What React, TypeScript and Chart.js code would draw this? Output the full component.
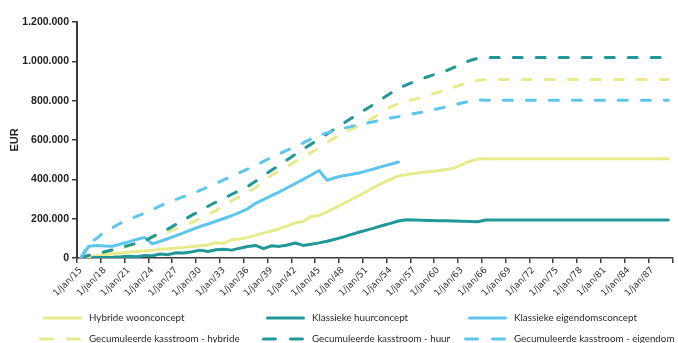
import React, { useEffect, useRef } from 'react';
import { Chart, registerables } from 'chart.js';

Chart.register(...registerables);

// Yearly categories, 1 January of each year
const YEARS: number[] = Array.from({ length: 75 }, (_, i) => 2015 + i);

// Values in thousands of euro
const HYBRIDE_WOON_K: number[] = [
  0, 5, 12, 17, 21, 25, 29, 33, 37, 40,
  44, 47, 51, 54, 58, 62, 66, 78, 75, 93,
  97, 105, 115, 127, 137, 149, 163, 179, 185, 211,
  216, 235, 255, 275, 296, 316, 338, 362, 382, 400,
  417, 424, 430, 435, 440, 444, 450, 457, 475, 492,
  503, 505, 505, 505, 505, 505, 505, 505, 505, 505,
  505, 505, 505, 505, 505, 505, 505, 505, 505, 505,
  505, 505, 505, 505, 505,
];

const KLASSIEK_HUUR_K: number[] = [
  0, 1, 2, 3, 4, 6, 9, 6, 13, 11,
  20, 17, 27, 25, 32, 40, 33, 42, 45, 40,
  50, 58, 64, 48, 62, 59, 66, 76, 64, 70,
  77, 85, 95, 106, 119, 131, 142, 153, 165, 176,
  188, 194, 193, 192, 191, 190, 189, 188, 187, 186,
  184, 193, 193, 193, 193, 193, 193, 193, 193, 193,
  193, 193, 193, 193, 193, 193, 193, 193, 193, 193,
  193, 193, 193, 193, 193,
];

const KLASSIEK_EIGENDOM_K: (number | null)[] = [
  0, 60, 63, 61, 60, 71, 82, 94, 105, 72,
  85, 99, 114, 129, 145, 160, 173, 187, 201, 215,
  232, 250, 278, 297, 317, 336, 357, 379, 400, 422,
  445, 395, 408, 418, 425, 432, 443, 454, 466, 477,
  488, null, null, null, null, null, null, null, null, null,
  null, null, null, null, null, null, null, null, null, null,
  null, null, null, null, null, null, null, null, null, null,
  null, null, null, null, null,
];

const GECUM_HYBRIDE_K: number[] = [
  0, 5, 12, 22, 35, 48, 60, 72, 88, 103,
  119, 133, 150, 165, 181, 200, 220, 241, 266, 290,
  313, 336, 357, 392, 421, 443, 466, 490, 514, 536,
  559, 587, 612, 633, 652, 675, 697, 717, 745, 768,
  785, 798, 806, 818, 830, 843, 855, 868, 882, 896,
  904, 907, 907, 907, 907, 907, 907, 907, 907, 907,
  907, 907, 907, 907, 907, 907, 907, 907, 907, 907,
  907, 907, 907, 907, 907,
];

const GECUM_HUUR_K: number[] = [
  0, 14, 20, 32, 42, 53, 64, 75, 85, 108,
  127, 148, 172, 195, 218, 240, 263, 284, 304, 324,
  344, 364, 390, 419, 446, 472, 500, 527, 553, 579,
  605, 631, 657, 683, 709, 734, 759, 784, 811, 838,
  863, 880, 897, 912, 926, 939, 952, 969, 987, 1004,
  1015, 1020, 1020, 1020, 1020, 1020, 1020, 1020, 1020, 1020,
  1020, 1020, 1020, 1020, 1020, 1020, 1020, 1020, 1020, 1020,
  1020, 1020, 1020, 1020, 1020,
];

const GECUM_EIGENDOM_K: number[] = [
  0, 75, 100, 135, 155, 177, 195, 212, 227, 246,
  265, 283, 298, 313, 327, 344, 361, 379, 397, 416,
  434, 452, 470, 491, 512, 530, 548, 566, 585, 605,
  625, 636, 648, 659, 668, 677, 686, 694, 703, 712,
  718, 727, 735, 742, 750, 759, 768, 778, 788, 797,
  804, 802, 802, 802, 802, 802, 802, 802, 802, 802,
  802, 802, 802, 802, 802, 802, 802, 802, 802, 802,
  802, 802, 802, 802, 802,
];

const SERIES_LABELS: string[] = [
  'Hybride woonconcept',
  'Klassieke huurconcept',
  'Klassieke eigendomsconcept',
  'Gecumuleerde kasstroom - hybride',
  'Gecumuleerde kasstroom - huur',
  'Gecumuleerde kasstroom - eigendom',
];

const Y_MAX = 1200000;
const Y_STEP = 200000;

const YELLOW = '#e7eb8c';
const TEAL = '#20989a';
const BLUE = '#5ec6ec';
const AXIS = '#3a3a3a';

const toEuro = (arr: (number | null)[]) => arr.map((v) => (v === null ? null : v * 1000));

const dotted = (n: number) => String(Math.round(n)).replace(/\B(?=(\d{3})+(?!\d))/g, '.');

// Legend laid out in a fixed 3 x 2 grid beneath the axis
const LEGEND_COLS = [43, 266, 468];
const LEGEND_ROWS = [318, 339];

const gridLegend = {
  id: 'gridLegend',
  afterDraw(chart: any) {
    const { ctx } = chart;
    ctx.save();
    chart.data.datasets.forEach((ds: any, i: number) => {
      const x0 = LEGEND_COLS[i % 3];
      const y = LEGEND_ROWS[Math.floor(i / 3)];
      ctx.strokeStyle = ds.borderColor;
      ctx.lineWidth = 3;
      ctx.lineCap = 'round';
      ctx.setLineDash([]);
      ctx.beginPath();
      if (ds.borderDash && ds.borderDash.length) {
        const s = x0 - 4;
        ctx.moveTo(s + 1.5, y);
        ctx.lineTo(s + 13.5, y);
        ctx.moveTo(s + 28.5, y);
        ctx.lineTo(s + 40.5, y);
      } else {
        ctx.moveTo(x0 + 1.5, y);
        ctx.lineTo(x0 + 37.5, y);
      }
      ctx.stroke();
      ctx.fillStyle = '#2a2a2a';
      ctx.font = '9.8px Lato';
      ctx.textBaseline = 'middle';
      ctx.textAlign = 'left';
      ctx.fillText(ds.label, x0 + 46, y);
    });
    ctx.restore();
  },
};

export default function App() {
  const canvasRef = useRef<HTMLCanvasElement | null>(null);

  useEffect(() => {
    if (!canvasRef.current) return;
    const colors = [YELLOW, TEAL, BLUE, YELLOW, TEAL, BLUE];
    const values = [
      HYBRIDE_WOON_K,
      KLASSIEK_HUUR_K,
      KLASSIEK_EIGENDOM_K,
      GECUM_HYBRIDE_K,
      GECUM_HUUR_K,
      GECUM_EIGENDOM_K,
    ];
    const datasets = values.map((vals, i) => ({
      label: SERIES_LABELS[i],
      data: toEuro(vals),
      borderColor: colors[i],
      backgroundColor: colors[i],
      borderWidth: 3,
      borderDash: i >= 3 ? [9, 14] : [],
      borderCapStyle: 'round' as const,
      borderJoinStyle: 'round' as const,
      pointRadius: 0,
      tension: 0,
      fill: false,
      spanGaps: false,
      order: 6 - i,
    }));

    const chart = new Chart(canvasRef.current, {
      type: 'line',
      data: { labels: YEARS.map(String), datasets },
      options: {
        animation: false,
        responsive: false,
        layout: { padding: { top: 22, right: 5, bottom: 0, left: 0 } },
        plugins: {
          legend: { display: false },
          tooltip: { enabled: false },
        },
        scales: {
          x: {
            type: 'category',
            offset: true,
            border: { display: true, color: AXIS, width: 1.5 },
            grid: {
              offset: true,
              drawOnChartArea: false,
              drawTicks: true,
              tickLength: 5,
              lineWidth: 1.5,
              color: (c: any) => (c.index === undefined || c.index % 3 === 0 ? AXIS : 'rgba(0,0,0,0)'),
              tickColor: (c: any) => (c.index === undefined || c.index % 3 === 0 ? AXIS : 'rgba(0,0,0,0)'),
            },
            ticks: {
              autoSkip: false,
              maxRotation: 45,
              minRotation: 45,
              padding: 2,
              color: '#333',
              font: { family: 'DejaVu Sans', size: 9 },
              callback: (_v: any, index: number) =>
                index % 3 === 0 ? '1/jan/' + String(YEARS[index]).slice(2) : '',
            },
            afterFit: (scale: any) => {
              scale.height = 85;
            },
          },
          y: {
            min: 0,
            max: Y_MAX,
            border: { display: true, color: AXIS, width: 2 },
            grid: {
              drawOnChartArea: false,
              drawTicks: true,
              tickLength: 5,
              lineWidth: 1.5,
              color: AXIS,
              tickColor: AXIS,
            },
            ticks: {
              stepSize: Y_STEP,
              padding: 3,
              color: '#1e1e1e',
              font: { family: 'Liberation Sans', size: 10.5, weight: 'bold' },
              callback: (v: any) => dotted(Number(v)),
            },
            title: {
              display: true,
              text: 'EUR',
              color: '#1e1e1e',
              font: { family: 'Liberation Sans', size: 11, weight: 'bold' },
              padding: { top: 8, bottom: 0 },
            },
            afterFit: (scale: any) => {
              scale.width = 77;
            },
          },
        },
      },
      plugins: [gridLegend],
    });

    return () => chart.destroy();
  }, []);

  return (
    <div style={{ position: 'absolute', left: 0, top: 0, width: 678, height: 343, background: '#fff' }}>
      <canvas ref={canvasRef} width={678} height={343} />
    </div>
  );
}
